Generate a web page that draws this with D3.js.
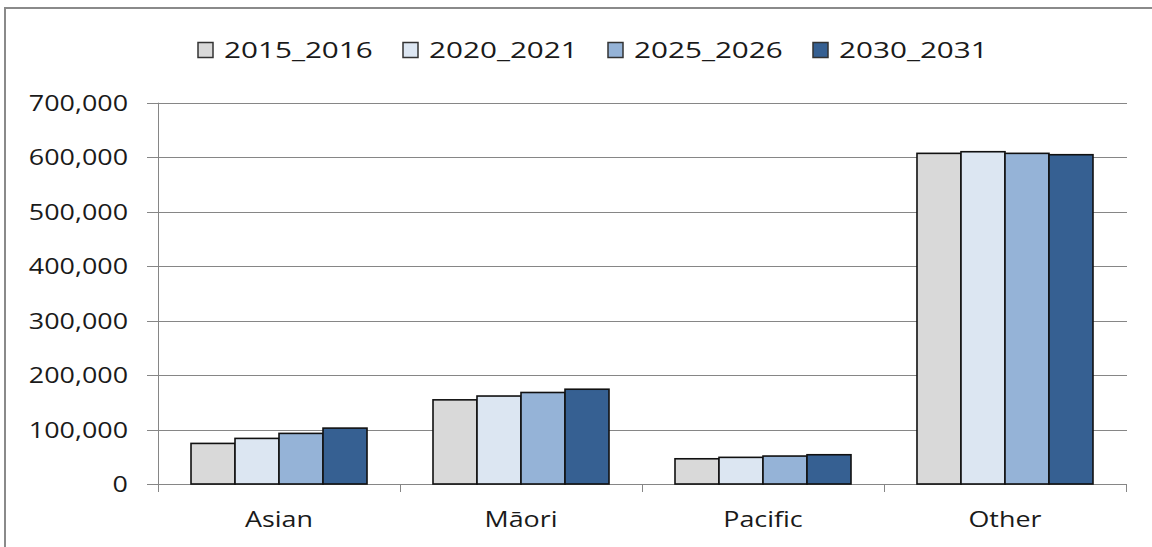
<html>

<head>
    <meta charset="utf-8">
    <style>
        body { margin: 0; background: #fff; }
        .grid { stroke: #868686; stroke-width: 1; }
        .lbl { font-family: "Open Sans"; font-size: 21px; fill: #1a1a1a; }
        .leg { font-size: 22.5px; }
    </style>
</head>

<body>
    <svg id="container" height="547" width="1152">
        <rect x="5" y="8" width="1200" height="600" fill="none" stroke="#8a8a8a" stroke-width="2" />
        <g id="grid" />
        <g id="bars" />
        <g id="labels" />
        <g id="legend" />
    </svg>
</body>
<script src="https://cdn.jsdelivr.net/npm/d3@7"></script>

<script>
    let categories = ["Asian", "M\u0101ori", "Pacific", "Other"]
    let seriesNames = ["2015_2016", "2020_2021", "2025_2026", "2030_2031"]
    let seriesColors = ["#d9d9d9", "#dce6f2", "#95b3d7", "#366092"]
    let values2015 = [74500, 154500, 46300, 607000]
    let values2020 = [83700, 161500, 48900, 610000]
    let values2025 = [92900, 168000, 51300, 607000]
    let values2030 = [102600, 174000, 53700, 604500]
    let yTicks = [0, 100000, 200000, 300000, 400000, 500000, 600000, 700000]

    let allValues = [values2015, values2020, values2025, values2030]

    let plotLeft = 158, plotRight = 1126, plotTop = 102.7, plotBottom = 484

    let x0 = d3.scaleBand().domain(categories).range([plotLeft, plotRight])
        .paddingInner(0.2727).paddingOuter(0.1364)
    let x1 = d3.scaleBand().domain(seriesNames).range([0, x0.bandwidth()])
    let y = d3.scaleLinear().domain([0, 700000]).range([plotBottom, plotTop])
    let fmt = d3.format(",")

    // text in the picture is stretched sideways
    function stretchedText(g, x, yy, txt, anchor, sx) {
        return g.append("text").attr("class", "lbl")
            .attr("transform", "translate(" + x + "," + yy + ") scale(" + sx + ",1)")
            .attr("text-anchor", anchor)
            .text(txt)
    }

    // gridlines + y ticks
    let grid = d3.select("#grid")
    yTicks.forEach(t => {
        grid.append("line").attr("class", "grid")
            .attr("x1", plotLeft - 11).attr("x2", plotRight + 1)
            .attr("y1", Math.round(y(t)) + 0.5).attr("y2", Math.round(y(t)) + 0.5)
    })
    grid.append("line").attr("class", "grid")
        .attr("x1", plotLeft + 0.5).attr("x2", plotLeft + 0.5)
        .attr("y1", y(700000)).attr("y2", plotBottom + 8)
    d3.range(categories.length + 1).forEach(i => {
        let xx = Math.round(plotLeft + i * x0.step()) + 0.5
        grid.append("line").attr("class", "grid")
            .attr("x1", xx).attr("x2", xx)
            .attr("y1", plotBottom).attr("y2", plotBottom + 8)
    })

    // bars
    let barData = []
    categories.forEach((c, i) => {
        seriesNames.forEach((s, j) => {
            barData.push({ cat: c, series: s, value: allValues[j][i], color: seriesColors[j] })
        })
    })
    d3.select("#bars").selectAll("rect").data(barData)
        .enter().append("rect")
        .attr("x", d => x0(d.cat) + x1(d.series))
        .attr("y", d => y(d.value))
        .attr("width", x1.bandwidth())
        .attr("height", d => plotBottom - y(d.value))
        .attr("fill", d => d.color)
        .attr("stroke", "#111")
        .attr("stroke-width", 1.6)

    // labels
    let labels = d3.select("#labels")
    yTicks.forEach(t => stretchedText(labels, 128, y(t) + 8, fmt(t), "end", 1.28))
    categories.forEach(c => stretchedText(labels, x0(c) + x0.bandwidth() / 2, 527, c, "middle", 1.28))

    // legend
    let legend = d3.select("#legend")
    seriesNames.forEach((s, i) => {
        let lx = 198 + i * 205
        legend.append("rect")
            .attr("x", lx).attr("y", 42.5).attr("width", 15).attr("height", 15)
            .attr("fill", seriesColors[i]).attr("stroke", "#333").attr("stroke-width", 1.5)
        stretchedText(legend, lx + 26, 57.5, s, "start", 1.32).classed("leg", true)
    })
</script>

</html>
